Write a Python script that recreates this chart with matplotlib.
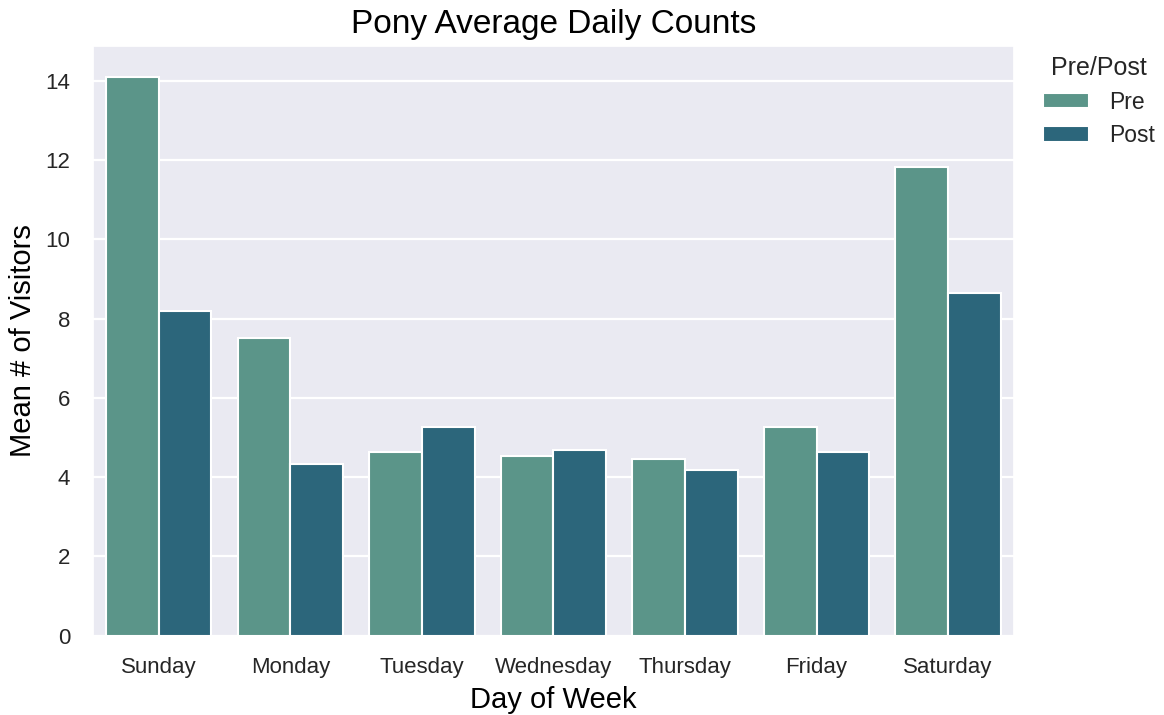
import pandas as pd
import matplotlib
matplotlib.use("Agg")
import matplotlib.pyplot as plt
import seaborn as sns

days = ["Sunday", "Monday", "Tuesday", "Wednesday", "Thursday", "Friday", "Saturday"]
pre_counts = [14.09, 7.52, 4.63, 4.54, 4.47, 5.26, 11.83]
post_counts = [8.20, 4.33, 5.26, 4.69, 4.19, 4.64, 8.66]
periods = ["Pre", "Post"]
colors = ["#5b9589", "#2c667b"]

df = pd.DataFrame({
    "Day of Week": days * 2,
    "Mean # of Visitors": pre_counts + post_counts,
    "Pre/Post": ["Pre"] * len(days) + ["Post"] * len(days),
})

sns.set_theme(style="darkgrid", rc={"grid.linewidth": 1.6})
plt.rcParams["font.family"] = ["Liberation Sans", "DejaVu Sans"]

fig = plt.figure(figsize=(11.64, 7.15), dpi=100)
ax = fig.add_axes([0.080, 0.111, 0.791, 0.824])
sns.barplot(data=df, x="Day of Week", y="Mean # of Visitors", hue="Pre/Post",
            hue_order=periods, palette=colors, edgecolor="white", linewidth=1.5,
            saturation=1, ax=ax)

ax.set_xlim(-0.5, 6.5)
ax.set_ylim(0, 14.87)
ax.set_title("Pony Average Daily Counts", fontsize=24, color="black", pad=10)
ax.set_xlabel("Day of Week", fontsize=21, color="black", labelpad=6)
ax.set_ylabel("Mean # of Visitors", fontsize=21, color="black", labelpad=6)
ax.tick_params(axis="x", labelsize=16, length=0, pad=15.5)
ax.tick_params(axis="y", labelsize=16, length=0, pad=16.5)
ax.legend(title="Pre/Post", loc="upper left", bbox_to_anchor=(1.009, 1.018),
          frameon=False, fontsize=16.5, title_fontsize=18, handlelength=2.0,
          handleheight=0.65, handletextpad=0.9, labelspacing=0.45)

fig.savefig("out.png", dpi=100)
